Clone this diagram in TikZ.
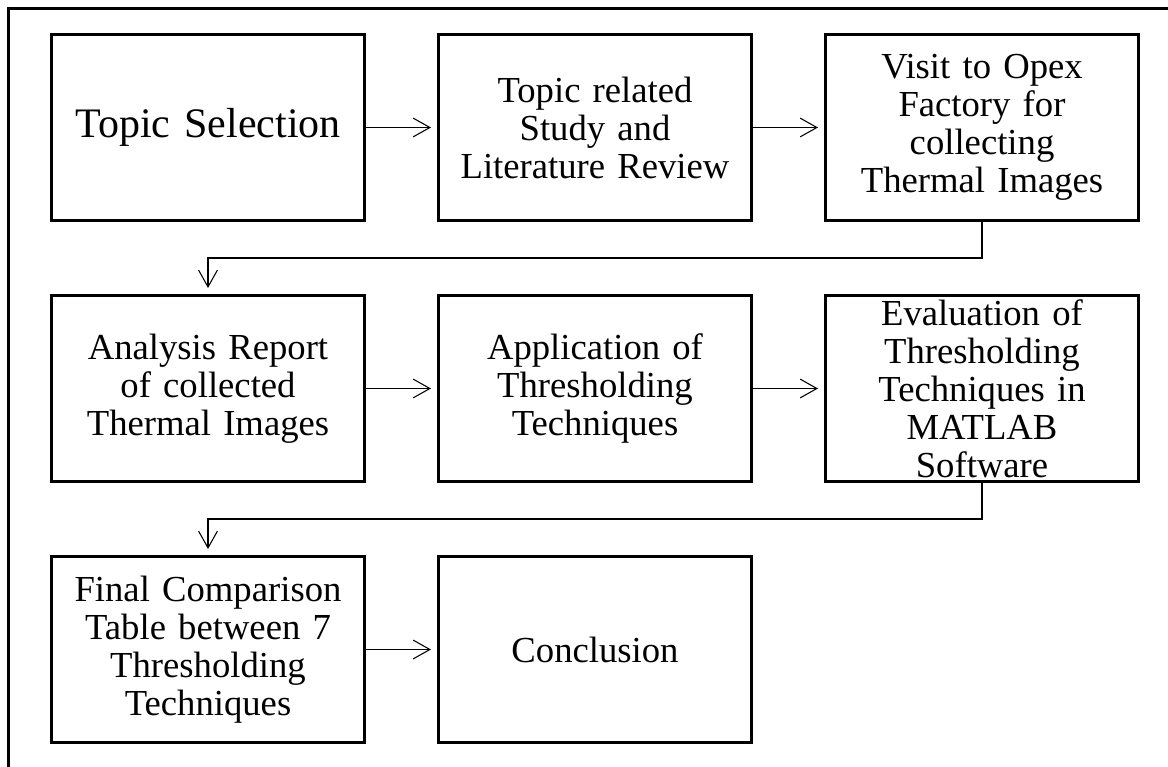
\documentclass[tikz,border=0pt]{standalone}
\usepackage{fontspec}
\setmainfont{Liberation Serif}
\usepackage{tikz}
\usetikzlibrary{positioning,arrows.meta}

\begin{document}
\begin{tikzpicture}[x=0.75pt,y=-0.75pt,
        stage/.style={rectangle,draw=black,line width=2.25pt,minimum width=234.75pt,minimum height=139.5pt,
                      inner sep=0pt,text width=228pt,align=center,font=\fontsize{27.5}{28.5}\selectfont},
        flow/.style={-{Straight Barb[length=12.5pt,width=14pt]},line width=0.8pt,shorten >=4.5pt},
        node distance=54pt and 53.25pt]
        \useasboundingbox (0,0) rectangle (1168,767);
        \draw[line width=2.25pt] (1168,9) -- (8,9) -- (8,767);
                        \node[stage,font=\fontsize{31.5}{34}\selectfont] (topic) at (208,127.5) {Topic Selection};
                        \node[stage,right=of topic] (study) {Topic related\\Study and\\Literature Review};
                        \node[stage,right=of study] (visit) {Visit to Opex\\Factory for\\collecting\\Thermal Images};
                        \node[stage,below=of topic] (report) {Analysis Report\\of collected\\Thermal Images};
                        \node[stage,right=of report] (apply) {Application of\\Thresholding\\Techniques};
                        \node[stage,right=of apply] (evaluate) {Evaluation of\\Thresholding\\Techniques in\\MATLAB\\Software};
                        \node[stage,below=of report] (compare) {Final Comparison\\Table between 7\\Thresholding\\Techniques};
                        \node[stage,right=of compare] (conclude) {Conclusion};
        \draw[flow] (topic) -- (study);
        \draw[flow] (study) -- (visit);
        \draw[flow] (visit.south) -- ++(0,36) -| (report.north);
        \draw[flow] (report) -- (apply);
        \draw[flow] (apply) -- (evaluate);
        \draw[flow] (evaluate.south) -- ++(0,36) -| (compare.north);
        \draw[flow] (compare) -- (conclude);
\end{tikzpicture}
\end{document}
